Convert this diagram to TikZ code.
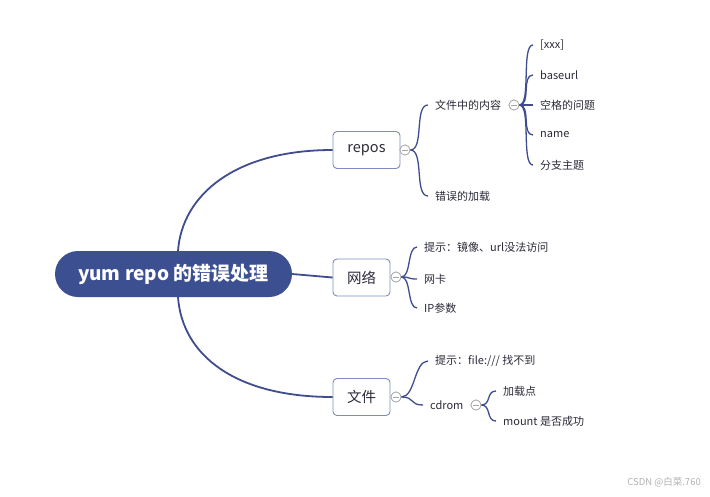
\documentclass[tikz,border=0pt]{standalone}
\usepackage{fontspec}
\setmainfont{Noto Sans CJK SC}
\definecolor{rootblue}{HTML}{3C4F91}
\definecolor{linec}{HTML}{3F4C8E}
\definecolor{boxc}{HTML}{7F8BBE}
\definecolor{txt}{HTML}{2B2B3A}
\tikzset{
  rootnode/.style={rounded corners=23pt, fill=rootblue, text=white, font=\fontsize{19}{22}\selectfont\bfseries, minimum width=237pt, minimum height=46pt, inner sep=0pt},
  topicbox/.style={draw=boxc, line width=0.9pt, rounded corners=4pt, fill=white, text=txt, font=\fontsize{14.5}{16}\selectfont, minimum height=37pt, inner sep=0pt},
  leaf/.style={anchor=west, text=txt, font=\fontsize{11}{13}\selectfont, inner xsep=7pt, inner ysep=2pt},
  knob/.style={circle, draw=gray!70, fill=white, line width=0.7pt, minimum size=10pt, inner sep=0pt,
    path picture={\draw[gray!70, line width=0.7pt] ([xshift=-3pt]path picture bounding box.center) -- ([xshift=3pt]path picture bounding box.center);}},
  thick branch/.style={draw=linec, line width=1.8pt},
  branch/.style={draw=linec, line width=1.3pt},
  wm/.style={text=gray!60, font=\fontsize{9.5}{11}\selectfont, anchor=east, inner sep=0pt}
}
\begin{document}
\begin{tikzpicture}[x=1pt,y=-1pt]
\useasboundingbox[fill=white] (0,0) rectangle (710,496);
% main nodes
\node[rootnode] (root) at (173.5,274) {yum repo 的错误处理};
\node[topicbox, minimum width=67pt] (repos) at (366.5,150) {repos};
\node[topicbox, minimum width=57pt] (net) at (361.5,277.5) {网络};
\node[topicbox, minimum width=57pt] (file) at (361.5,397) {文件};
% anchors on root
\coordinate (rtop) at (178,251);
\coordinate (rbot) at (178,297);
% root branches
\draw[thick branch] (rtop) .. controls (182,195) and (235,150) .. (repos.west);
\draw[thick branch] (root.east) -- (net.west);
\draw[thick branch] (rbot) .. controls (182,355) and (235,397) .. (file.west);
% knobs
\node[knob] (k1) at (405,150) {};
\node[knob] (k2) at (396,277) {};
\node[knob] (k3) at (396,397) {};
% repos children
\node[leaf] (content) at (428,105) {文件中的内容};
\node[leaf] (load) at (428,196) {错误的加载};
\node[knob] (k4) at (514,105) {};
\node[leaf] (xxx) at (533,45) {[xxx]};
\node[leaf] (baseurl) at (533,75) {baseurl};
\node[leaf] (space) at (533,105) {空格的问题};
\node[leaf] (name) at (533,135) {name};
\node[leaf] (sub) at (533,165) {分支主题};
% net children
\node[leaf] (hint1) at (417,247) {提示：镜像、url没法访问};
\node[leaf] (nic) at (417,279) {网卡};
\node[leaf] (ip) at (417,308) {IP参数};
% file children
\node[leaf] (hint2) at (428,361) {提示：file:/// 找不到};
\node[leaf] (cdrom) at (423,405) {cdrom};
\node[knob] (k5) at (476,405) {};
\node[leaf] (mp) at (496,391) {加载点};
\node[leaf] (mount) at (496,421) {mount 是否成功};
% branches
\foreach \c in {content,load}
  \draw[branch] (k1.east) .. controls +(14,0) and +(-14,0) .. (\c.west);
\foreach \c in {xxx,baseurl,space,name,sub}
  \draw[branch] (k4.east) .. controls +(12,0) and +(-12,0) .. (\c.west);
\foreach \c in {hint1,nic,ip}
  \draw[branch] (k2.east) .. controls +(10,0) and +(-10,0) .. (\c.west);
\foreach \c in {hint2,cdrom}
  \draw[branch] (k3.east) .. controls +(14,0) and +(-14,0) .. (\c.west);
\foreach \c in {mp,mount}
  \draw[branch] (k5.east) .. controls +(10,0) and +(-10,0) .. (\c.west);
% redraw knobs on top
\node[knob] at (k1) {};
\node[knob] at (k2) {};
\node[knob] at (k3) {};
\node[knob] at (k4) {};
\node[knob] at (k5) {};
% watermark
\node[wm] (wmark) at (701,482) {CSDN @白菜.760};
\end{tikzpicture}
\end{document}
